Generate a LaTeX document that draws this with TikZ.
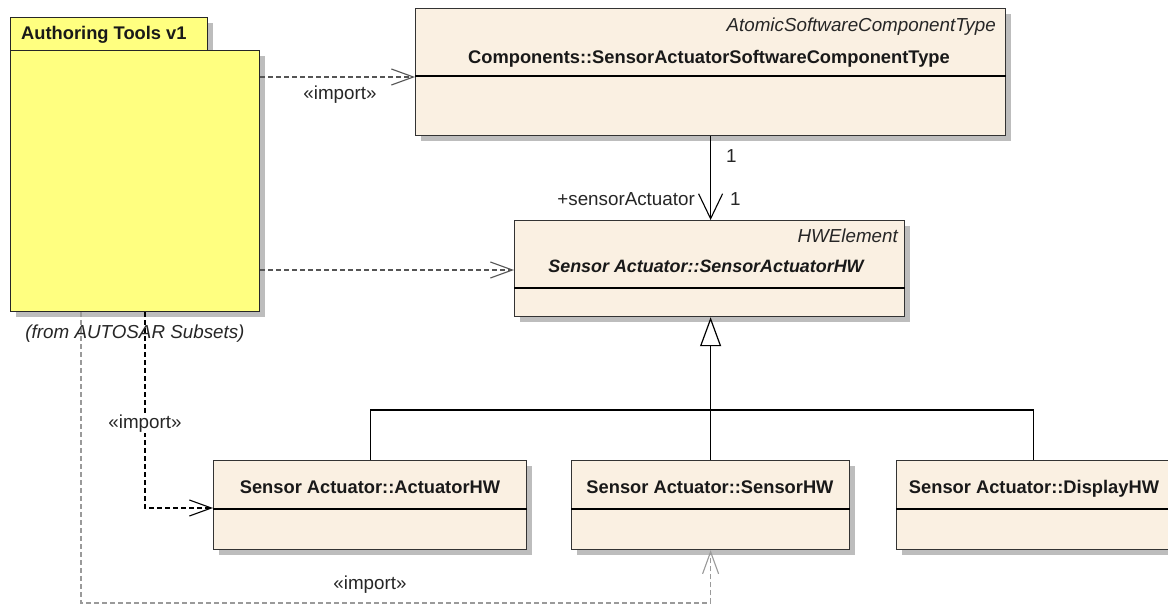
\documentclass[tikz,border=0pt]{standalone}
\usepackage{fontspec}
\setmainfont{Liberation Sans}
\usetikzlibrary{arrows.meta,shadows}
\definecolor{pkgfill}{HTML}{FFFF80}
\definecolor{clsfill}{HTML}{FAF0E2}
\definecolor{shadowgray}{HTML}{BDBDBD}
\definecolor{impgray}{HTML}{555555}
\definecolor{lightimp}{HTML}{9A9A9A}
\begin{document}
\begin{tikzpicture}[x=1pt,y=-1pt,
  shad/.style={drop shadow={shadow xshift=5pt, shadow yshift=-5pt, fill=shadowgray, opacity=1}},
  pkgbox/.style={draw=black!85, fill=pkgfill, line width=1.2pt, inner sep=0pt, anchor=north west, shad},
  cls/.style={draw=black!80, fill=clsfill, line width=1.2pt, inner sep=0pt, anchor=north west, shad},
  sepline/.style={draw=black, line width=1.2pt},
  txt/.style={font=\fontsize{18.8}{20}\selectfont, inner sep=0pt, text=black!85},
  boldtxt/.style={font=\fontsize{18.3}{20}\selectfont\bfseries, inner sep=0pt, text=black!90},
  itltxt/.style={font=\fontsize{18.8}{20}\selectfont\itshape, inner sep=0pt, text=black!85},
  bitltxt/.style={font=\fontsize{17.9}{20}\selectfont\bfseries\itshape, inner sep=0pt, text=black!90},
  imparrow/.style={line width=1.1pt, dash pattern=on 5pt off 3pt, -{Straight Barb[length=22pt,width=16pt,line width=1.1pt]}},
  imp/.style={imparrow, draw=impgray},
  impblack/.style={imparrow, draw=black},
  implight/.style={imparrow, draw=lightimp},
  solidline/.style={draw=black, line width=1.2pt},
  assoc/.style={solidline, -{Straight Barb[length=25pt,width=24pt,line width=1.1pt]}},
  gen/.style={solidline, -{Triangle[open, length=29pt, width=21pt, line width=1.2pt, fill=white]}},
]
\clip (0,0) rectangle (1168,605);
\fill[white] (0,0) rectangle (1168,605);

% package
\node[pkgbox, minimum width=197pt, minimum height=33pt] (tab) at (10,17) {};
\node[pkgbox, minimum width=249pt, minimum height=261pt] (pkg) at (10,50) {};
\node[boldtxt, anchor=base west] (pkgname) at (21,39) {Authoring Tools v1};

% classes
\node[cls, minimum width=590pt, minimum height=127pt] (top) at (415,8) {};
\draw[sepline] (top.west |- 0,76) -- (top.east |- 0,76);
\node[itltxt, anchor=base east] (topst) at (996,31) {AtomicSoftwareComponentType};
\node[boldtxt, anchor=base] (topname) at (709,63) {Components::SensorActuatorSoftwareComponentType};

\node[cls, minimum width=390pt, minimum height=96pt] (hw) at (514,220) {};
\draw[sepline] (hw.west |- 0,288) -- (hw.east |- 0,288);
\node[itltxt, anchor=base east] (hwst) at (898,242) {HWElement};
\node[bitltxt, anchor=base] (hwname) at (706,272) {Sensor Actuator::SensorActuatorHW};

\node[cls, minimum width=313pt, minimum height=89pt] (act) at (213,460) {};
\draw[sepline] (act.west |- 0,509) -- (act.east |- 0,509);
\node[boldtxt, anchor=base] (actname) at (370,493) {Sensor Actuator::ActuatorHW};

\node[cls, minimum width=278pt, minimum height=89pt] (sens) at (571,460) {};
\draw[sepline] (sens.west |- 0,509) -- (sens.east |- 0,509);
\node[boldtxt, anchor=base] (sensname) at (710,493) {Sensor Actuator::SensorHW};

\node[cls, minimum width=274pt, minimum height=89pt] (disp) at (896,460) {};
\draw[sepline] (disp.west |- 0,509) -- (disp.east |- 0,509);
\node[boldtxt, anchor=base] (dispname) at (1034,493) {Sensor Actuator::DisplayHW};

% association
\draw[assoc] (top.south) -- (top.south |- hw.north);
\node[txt, anchor=base west] (m1) at (726,162) {1};
\node[txt, anchor=base west] (m2) at (730,205) {1};
\node[txt, anchor=base east] (role) at (695,205) {+sensorActuator};

% generalization
\coordinate (bus) at (710,410);
\draw[solidline] (act.north) |- (bus) -| (disp.north);
\draw[gen] (sens.north) -- (sens.north |- hw.south);

% imports
\draw[imp] (pkg.east |- 0,77) -- (top.west |- 0,77);
\node[txt, anchor=base] (imp1) at (340,99) {«import»};
\draw[imp] (pkg.east |- 0,270) -- (hw.west |- 0,270);

\draw[impblack] (pkg.south -| 145,0) |- (act.west |- 0,508);
\node[txt, anchor=base, fill=white, inner sep=1.5pt] (imp2) at (145,428) {«import»};

\coordinate (bl) at (81,603);
\draw[implight] (pkg.south -| 81,0) -- (bl) -| (sens.south);
\node[txt, anchor=base] (imp3) at (370,589) {«import»};

\node[itltxt, anchor=base] (from) at (135,338) {(from AUTOSAR Subsets)};
\end{tikzpicture}
\end{document}
